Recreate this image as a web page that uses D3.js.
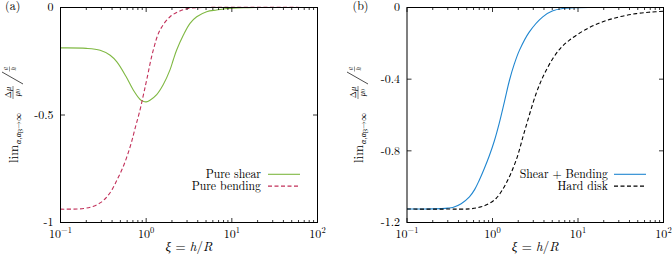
<!DOCTYPE html>
<html><head><meta charset="utf-8">
<script src="https://cdn.jsdelivr.net/npm/d3@7"></script>
<style>
html,body{margin:0;padding:0;background:#fff;}
svg{display:block;}
</style></head>
<body><svg id="c" width="672" height="259"></svg>
<script>
// ---- data ----
const shearXi   = [0.1,0.2,0.29,0.38,0.455,0.58,0.71,0.85,0.92,1.0,1.108,1.327,1.585,1.897,2.07,2.27,2.72,3.25,3.89,5.08,6.65,8.3,10.3,15,20,100];
const shearVal  = [-0.188,-0.19,-0.199,-0.222,-0.253,-0.32,-0.385,-0.428,-0.436,-0.439,-0.431,-0.405,-0.358,-0.29,-0.244,-0.198,-0.128,-0.0735,-0.043,-0.0195,-0.0116,-0.006,-0.003,-0.001,0,0];
const bendXi    = [0.1,0.186,0.243,0.3,0.347,0.4,0.455,0.52,0.595,0.67,0.745,0.847,0.93,1.014,1.21,1.45,1.9,2.48,3.3,5,100];
const bendVal   = [-0.938,-0.935,-0.924,-0.905,-0.881,-0.847,-0.803,-0.755,-0.695,-0.63,-0.56,-0.477,-0.405,-0.337,-0.198,-0.105,-0.043,-0.016,-0.003,0,0];
const sbXi      = [0.1,0.2,0.3,0.343,0.43,0.537,0.62,0.70,0.80,0.92,1.05,1.2,1.38,1.58,1.8,2.07,2.7,3.87,5,6.65,10,15,100];
const sbVal     = [-1.125,-1.124,-1.12,-1.116,-1.095,-1.057,-1.015,-0.964,-0.9,-0.826,-0.745,-0.645,-0.525,-0.406,-0.315,-0.238,-0.136,-0.052,-0.02,-0.006,-0.001,0,0];
const hdXi      = [0.1,0.3,0.537,0.7,0.84,1.1,1.44,1.89,2.36,3.24,4.0,5.08,6.3,7.95,12.5,19.5,30.6,47.9,70,100];
const hdVal     = [-1.125,-1.125,-1.124,-1.115,-1.103,-1.066,-0.982,-0.852,-0.694,-0.48,-0.375,-0.285,-0.225,-0.182,-0.121,-0.08,-0.052,-0.034,-0.026,-0.021];
const xTickExp  = [-1,0,1,2];
const yTicksA   = [0,-0.5,-1];
const yTickLabA = ["0","-0.5","-1"];
const yTicksB   = [0,-0.4,-0.8,-1.2];
const yTickLabB = ["0","-0.4","-0.8","-1.2"];

const FONT = "'Latin Modern Roman','CMU Serif','Liberation Serif',serif";
const svg = d3.select("#c").attr("font-family", FONT);
const zip = (xs, ys) => xs.map((x,i)=>[x, ys[i]]);

function panel(o){
  const {x0,x1,y0,y1,ydom,yticks,ylabs,series,legend,tag,labX} = o;
  const x = d3.scaleLog().domain([0.1,100]).range([x0,x1]);
  const y = d3.scaleLinear().domain(ydom).range([y0,y1]);
  const g = svg.append("g").attr("font-family", FONT);
  const line = d3.line().x(d=>x(d[0])).y(d=>Math.max(y0, y(d[1]))).curve(d3.curveCatmullRom.alpha(0.5));
  series.forEach(s=>{
    g.append("path").attr("d", line(s.data)).attr("fill","none")
      .attr("stroke", s.color).attr("stroke-width",1.1)
      .attr("stroke-dasharray", s.dash||null);
  });
  const minor = [];
  for (let e=-1;e<2;e++) for (let m=2;m<10;m++) minor.push(m*Math.pow(10,e));
  const tk = g.append("g").attr("stroke","#000").attr("stroke-width",0.8);
  minor.forEach(v=>{
    tk.append("line").attr("x1",x(v)).attr("x2",x(v)).attr("y1",y1).attr("y2",y1-2.5);
    tk.append("line").attr("x1",x(v)).attr("x2",x(v)).attr("y1",y0).attr("y2",y0+2.5);
  });
  xTickExp.forEach(e=>{
    const v=Math.pow(10,e);
    tk.append("line").attr("x1",x(v)).attr("x2",x(v)).attr("y1",y1).attr("y2",y1-4.5);
    tk.append("line").attr("x1",x(v)).attr("x2",x(v)).attr("y1",y0).attr("y2",y0+4.5);
  });
  yticks.forEach(v=>{
    tk.append("line").attr("x1",x0).attr("x2",x0+4.5).attr("y1",y(v)).attr("y2",y(v));
    tk.append("line").attr("x1",x1).attr("x2",x1-4.5).attr("y1",y(v)).attr("y2",y(v));
  });
  g.append("rect").attr("x",x0).attr("y",y0).attr("width",x1-x0).attr("height",y1-y0)
    .attr("fill","none").attr("stroke","#000").attr("stroke-width",1);
  yticks.forEach((v,i)=>{
    g.append("text").attr("x",x0-7).attr("y",y(v)).attr("dy","0.33em")
      .attr("text-anchor","end").attr("font-size",12).text(ylabs[i]);
  });
  xTickExp.forEach(e=>{
    const t = g.append("text").attr("x",x(Math.pow(10,e))).attr("y",y1+15.5)
      .attr("text-anchor","middle").attr("font-size",12);
    t.append("tspan").text("10");
    t.append("tspan").attr("dy",-5).attr("font-size",8.5).text(e<0?"\u2212"+(-e):String(e));
  });
  const xl = g.append("text").attr("x",(x0+x1)/2).attr("y",y1+28.5).attr("text-anchor","middle").attr("font-size",13);
  xl.append("tspan").attr("font-style","italic").text("\u03BE");
  xl.append("tspan").text(" = ");
  xl.append("tspan").attr("font-style","italic").text("h");
  xl.append("tspan").text("/");
  xl.append("tspan").attr("font-style","italic").text("R");
  g.append("text").attr("x",tag[1]).attr("y",10).attr("font-size",12).text(tag[0]);
  legend.forEach((L,i)=>{
    const ly = 174.3 + i*11.8;
    g.append("text").attr("x",L.tx).attr("y",ly).attr("dy","0.33em").attr("text-anchor","end")
      .attr("font-size",11.8).text(L.label);
    g.append("line").attr("x1",L.lx0).attr("x2",L.lx1).attr("y1",ly).attr("y2",ly)
      .attr("stroke",L.color).attr("stroke-width",1.1).attr("stroke-dasharray",L.dash||null);
  });
  const cy = (y0+y1)/2 + 1;
  const yl = g.append("g").attr("transform",`translate(${labX},${cy}) rotate(-90)`);
  yl.append("text").attr("x",-47).attr("y",5).attr("font-size",13).text("lim");
  const sub = yl.append("text").attr("x",-28).attr("y",8).attr("font-size",8);
  sub.append("tspan").attr("font-style","italic").text("\u03B1,\u03B1");
  sub.append("tspan").attr("font-size",6).attr("dy",1.5).text("B");
  sub.append("tspan").attr("dy",-1.5).text("\u2192\u221E");
  yl.append("text").attr("x",23.5).attr("y",-2).attr("text-anchor","middle").attr("font-size",8.5)
    .html('\u0394<tspan font-style="italic">\u03BC</tspan>');
  yl.append("line").attr("x1",17).attr("x2",30).attr("y1",0).attr("y2",0).attr("stroke","#000").attr("stroke-width",0.5);
  yl.append("text").attr("x",23.5).attr("y",7).attr("text-anchor","middle").attr("font-size",8.5)
    .html('<tspan font-style="italic">\u03BC</tspan><tspan font-size="6">0</tspan>');
  yl.append("line").attr("x1",32).attr("x2",44).attr("y1",10).attr("y2",-11).attr("stroke","#000").attr("stroke-width",0.7);
  yl.append("text").attr("x",47).attr("y",-5).attr("text-anchor","middle").attr("font-size",7).attr("font-style","italic").text("a");
  yl.append("line").attr("x1",44.5).attr("x2",49.5).attr("y1",-3.5).attr("y2",-3.5).attr("stroke","#000").attr("stroke-width",0.4);
  yl.append("text").attr("x",47).attr("y",2.5).attr("text-anchor","middle").attr("font-size",7).attr("font-style","italic").text("h");
}

panel({x0:60.5,x1:317.5,y0:7.5,y1:222.5,ydom:[0,-1],yticks:yTicksA,ylabs:yTickLabA,
  tag:["(a)",5],labX:13,
  series:[{data:zip(shearXi,shearVal),color:"#7fb842"},
          {data:zip(bendXi,bendVal),color:"#c2305a",dash:"4,2.5"}],
  legend:[{label:"Pure shear",tx:261,lx0:268,lx1:300,color:"#7fb842"},
          {label:"Pure bending",tx:261,lx0:268,lx1:300,color:"#c2305a",dash:"4,2.5"}]});

panel({x0:407,x1:663.5,y0:7.5,y1:222.5,ydom:[0,-1.2],yticks:yTicksB,ylabs:yTickLabB,
  tag:["(b)",352.5],labX:358,
  series:[{data:zip(sbXi,sbVal),color:"#1f86d0"},
          {data:zip(hdXi,hdVal),color:"#000",dash:"4,2.5"}],
  legend:[{label:"Shear + Bending",tx:608,lx0:614,lx1:646,color:"#1f86d0"},
          {label:"Hard disk",tx:608,lx0:614,lx1:646,color:"#000",dash:"4,2.5"}]});
</script></body></html>
